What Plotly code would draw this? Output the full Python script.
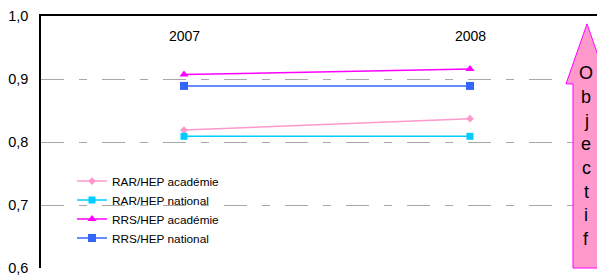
import plotly.graph_objects as go

years = ["2007", "2008"]
rar_acad = [0.819, 0.837]
rar_nat = [0.809, 0.809]
rrs_acad = [0.907, 0.916]
rrs_nat = [0.889, 0.889]
y_ticks = [0.6, 0.7, 0.8, 0.9, 1.0]
arrow_text = "Objectif"

OFF = 8  # default page body margin
W, H = 605 - OFF, 276 - OFF
# plot area in screen pixels
SL, SR, ST, SB = 41, 605, 15, 271
L, R, T, B = SL - OFF, SR - OFF, ST - OFF, SB - OFF

def px(x):  # screen x -> paper
    return (x - SL) / (SR - SL)

def py(y):  # screen y -> paper
    return (SB - y) / (SB - ST)

fig = go.Figure()
series = [
    ("RAR/HEP académie", rar_acad, "#FF99CC", "diamond", 6),
    ("RAR/HEP national", rar_nat, "#00CCFF", "square", 7),
    ("RRS/HEP académie", rrs_acad, "#FF00FF", "triangle-up", 8),
    ("RRS/HEP national", rrs_nat, "#3366FF", "square", 8),
]
xs = list(range(len(years)))
for name, vals, col, sym, sz in series:
    fig.add_trace(go.Scatter(
        x=xs, y=vals, name=name, mode="lines+markers",
        line=dict(color=col, width=1.5),
        marker=dict(symbol=sym, size=sz, color=col),
    ))

# Arrow shape (screen pixel -> paper)
pts = [(573, 271), (573, 84), (566, 84), (587, 23), (608, 84), (599, 84), (599, 271)]
path = "M " + " L ".join(f"{px(x):.5f},{py(y):.5f}" for x, y in pts) + " Z"
fig.add_shape(type="path", path=path, xref="paper", yref="paper",
              fillcolor="#FF99CC", line=dict(color="#FF00FF", width=1))

annotations = []
for i, ch in enumerate(arrow_text):
    annotations.append(dict(
        x=px(586), y=py(73 + 24.1 * i), xref="paper", yref="paper",
        text=ch, showarrow=False, xanchor="center", yanchor="middle",
        font=dict(size=18, color="black"),
    ))
for xv, lab in zip(xs, years):
    annotations.append(dict(
        x=xv, y=py(35), xref="x", yref="paper", text=lab, showarrow=False,
        xanchor="center", yanchor="middle", font=dict(size=14, color="black"),
    ))

fig.update_layout(
    width=W, height=H,
    margin=dict(l=L, r=W - R, t=T, b=H - B, pad=0),
    paper_bgcolor="white", plot_bgcolor="white",
    separators=",.",
    font=dict(family="Liberation Sans, Arial", color="black"),
    showlegend=True,
    legend=dict(x=px(72), y=py(168), xanchor="left", yanchor="top",
                font=dict(size=11.8), bgcolor="rgba(0,0,0,0)",
                itemwidth=30, tracegroupgap=0),
    annotations=annotations,
    xaxis=dict(
        range=[-0.5, (SR - SL) / 286 - 0.5],
        showticklabels=False, side="top", ticks="",
        showgrid=False, zeroline=False,
        showline=True, linecolor="black", linewidth=1.5,
    ),
    yaxis=dict(
        range=[0.6, 1.0], tickvals=y_ticks, tickformat=".1f",
        showgrid=True, gridcolor="#A8A8A8", griddash="23px,15px,8px,15px",
        gridwidth=1.2,
        zeroline=False, showline=True, linecolor="black", linewidth=1.5,
        ticks="", ticklabelstandoff=8, ticklabeloverflow="allow",
        tickfont=dict(size=14.5),
    ),
)

fig.write_html("out.html")
